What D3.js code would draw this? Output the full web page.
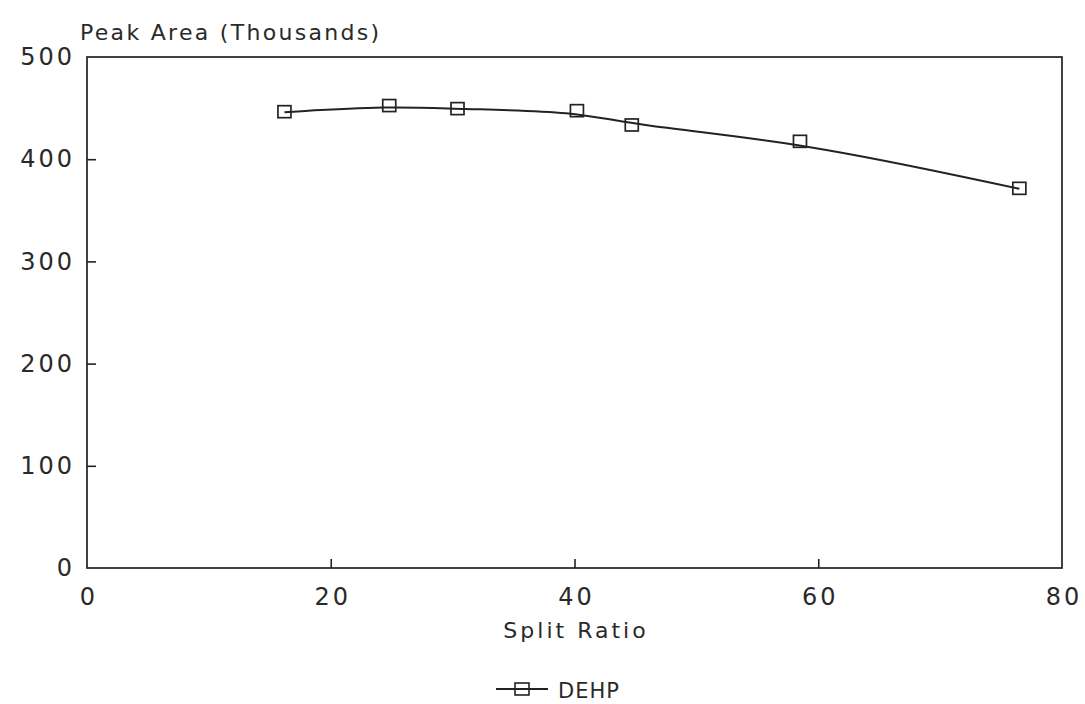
<!DOCTYPE html>
<html>
<head>
<meta charset="utf-8">
<script src="https://cdn.jsdelivr.net/npm/d3@7"></script>
<style>
  body { margin: 0; background: #fff; }
  text { font-family: "DejaVu Sans", sans-serif; fill: #2a2a2a; }
</style>
</head>
<body>
<div id="chart"></div>
<script>
// data
var splitRatio = [16.2, 24.8, 30.4, 40.2, 44.7, 58.5, 76.5];
var peakArea = [446, 452, 449, 447, 433, 417, 371];
var xTicks = [0, 20, 40, 60, 80];
var yTicks = [0, 100, 200, 300, 400, 500];
var seriesName = "DEHP";

var outerWidth = 1085,
    outerHeight = 704,
    margin = {top: 57, right: 23, bottom: 136, left: 87},
    width = outerWidth - margin.left - margin.right,
    height = outerHeight - margin.top - margin.bottom;

var svg = d3.select("#chart").append("svg")
    .attr("width", outerWidth)
    .attr("height", outerHeight);

var g = svg.append("g")
    .attr("transform", "translate(" + margin.left + "," + margin.top + ")");

var x = d3.scaleLinear().domain([0, 80]).range([0, width]);
var y = d3.scaleLinear().domain([0, 500]).range([height, 0]);

// frame
g.append("rect")
    .attr("width", width)
    .attr("height", height)
    .attr("fill", "none")
    .attr("stroke", "#222")
    .attr("stroke-width", 1.7);

// x axis: inward ticks, labels below
var xAxis = g.append("g")
    .attr("transform", "translate(0," + height + ")")
    .call(d3.axisBottom(x).tickValues(xTicks).tickSizeInner(-9).tickSizeOuter(0).tickPadding(20));
xAxis.select(".domain").remove();
xAxis.selectAll("line").attr("stroke", "#222").attr("stroke-width", 1.6)
    .filter(function (d) { return d === 0 || d === 80; }).remove();
xAxis.selectAll("text").attr("font-size", 24).attr("fill", "#2a2a2a")
    .attr("letter-spacing", 3)
    .attr("dx", "0.06em")
    .attr("dy", "0.71em");

// y axis: small inward ticks, labels left
var yAxis = g.append("g")
    .call(d3.axisLeft(y).tickValues(yTicks).tickSizeInner(-9).tickSizeOuter(0).tickPadding(12));
yAxis.select(".domain").remove();
yAxis.selectAll("line").attr("stroke", "#222").attr("stroke-width", 1.6)
    .filter(function (d) { return d === 0 || d === 500; }).remove();
yAxis.selectAll("text").attr("font-size", 24).attr("fill", "#2a2a2a")
    .attr("letter-spacing", 3);

// titles
svg.append("text")
    .attr("x", 80)
    .attr("y", 40)
    .attr("font-size", 22)
    .attr("letter-spacing", 2.3)
    .text("Peak Area (Thousands)");

svg.append("text")
    .attr("x", 576)
    .attr("y", 638)
    .attr("text-anchor", "middle")
    .attr("font-size", 22)
    .attr("letter-spacing", 3)
    .text("Split Ratio");

// smoothed line through the points
var pts = splitRatio.map(function (d, i) { return [d, peakArea[i]]; });

var line = d3.line()
    .x(function (d) { return x(d[0]); })
    .y(function (d) { return y(d[1]); })
    .curve(d3.curveBasis);

g.append("path")
    .datum(pts)
    .attr("d", line)
    .attr("fill", "none")
    .attr("stroke", "#222")
    .attr("stroke-width", 2);

var sq = 13;
g.selectAll(".pt")
    .data(pts)
    .enter().append("rect")
    .attr("class", "pt")
    .attr("x", function (d) { return x(d[0]) - sq / 2; })
    .attr("y", function (d) { return y(d[1]) - sq / 2; })
    .attr("width", sq)
    .attr("height", sq - 1)
    .attr("fill", "none")
    .attr("stroke", "#222")
    .attr("stroke-width", 1.7);

// legend
var legend = svg.append("g").attr("transform", "translate(496,689)");
legend.append("line")
    .attr("x1", 0).attr("x2", 52)
    .attr("stroke", "#222").attr("stroke-width", 2);
legend.append("rect")
    .attr("x", 19).attr("y", -6).attr("width", 14).attr("height", 12)
    .attr("fill", "none").attr("stroke", "#222").attr("stroke-width", 1.6);
legend.append("text")
    .attr("x", 62).attr("y", 9)
    .attr("font-size", 21)
    .attr("letter-spacing", 1)
    .text(seriesName);
</script>
</body>
</html>
